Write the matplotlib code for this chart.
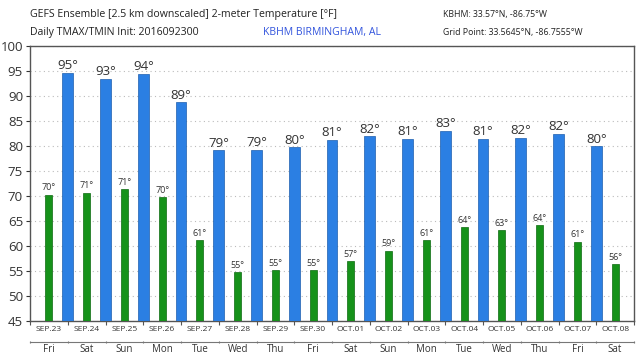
import numpy as np
import matplotlib.pyplot as plt

dates = ["SEP.23", "SEP.24", "SEP.25", "SEP.26", "SEP.27", "SEP.28", "SEP.29", "SEP.30",
         "OCT.01", "OCT.02", "OCT.03", "OCT.04", "OCT.05", "OCT.06", "OCT.07", "OCT.08"]
weekdays = ["Fri", "Sat", "Sun", "Mon", "Tue", "Wed", "Thu", "Fri",
            "Sat", "Sun", "Mon", "Tue", "Wed", "Thu", "Fri", "Sat"]
tmin = [70.2, 70.6, 71.3, 69.7, 61.1, 54.7, 55.1, 55.1, 56.9, 59.0, 61.1, 63.7, 63.1, 64.1, 60.8, 56.3]
tmin_labels = [70, 71, 71, 70, 61, 55, 55, 55, 57, 59, 61, 64, 63, 64, 61, 56]
tmax = [94.6, 93.4, 94.4, 88.7, 79.1, 79.2, 79.7, 81.2, 81.9, 81.4, 83.0, 81.4, 81.6, 82.4, 79.9]
tmax_labels = [95, 93, 94, 89, 79, 79, 80, 81, 82, 81, 83, 81, 82, 82, 80]

plt.rcParams["font.family"] = ["Open Sans", "DejaVu Sans"]

blue = "#2b7fe3"
green = "#16921a"
frame = "#555555"

fig = plt.figure(figsize=(6.4, 3.6), dpi=100)
ax = fig.add_axes([30 / 640, 1 - 320.7 / 360, 604 / 640, 274.7 / 360])

n = len(dates)
x_min = np.arange(n) + 0.5
x_max = np.arange(1, len(tmax) + 1)

ax.bar(x_min, np.array(tmin) - 45, bottom=45, width=0.19, color=green,
       edgecolor="#0d6a10", linewidth=0.5, zorder=3)
ax.bar(x_max, np.array(tmax) - 45, bottom=45, width=0.29, color=blue,
       edgecolor="#1d5fae", linewidth=0.5, zorder=3)

for x, v, lab in zip(x_min, tmin, tmin_labels):
    ax.text(x, v + 0.5, f"{lab}°", ha="center", va="bottom", fontsize=6.5, color="#333333")
for x, v, lab in zip(x_max, tmax, tmax_labels):
    ax.text(x, v + 0.1, f"{lab}°", ha="center", va="bottom", fontsize=9.5, color="#333333")

ax.set_xlim(0, n)
ax.set_ylim(45, 100)
ax.set_yticks(np.arange(45, 101, 5))
ax.tick_params(axis="y", labelsize=9.5, colors="#333333", length=3, pad=2)
ax.yaxis.grid(True, linestyle=(0, (1, 3)), color="#bbbbbb", linewidth=0.8)
ax.set_axisbelow(True)

ax.set_xticks(np.arange(n + 1))
ax.set_xticklabels([])
ax.set_xticks(x_min, minor=True)
ax.set_xticklabels(dates, minor=True)
ax.tick_params(axis="x", which="major", length=3, color=frame)
ax.tick_params(axis="x", which="minor", length=0, labelsize=6, colors="#333333", pad=4)

for s in ax.spines.values():
    s.set_color(frame)
    s.set_linewidth(1.0)

ax2 = ax.twiny()
ax2.set_xlim(0, n)
ax2.xaxis.set_ticks_position("bottom")
ax2.xaxis.set_label_position("bottom")
ax2.spines["bottom"].set_position(("outward", 15))
ax2.spines["bottom"].set_color("#777777")
for k in ["top", "left", "right"]:
    ax2.spines[k].set_visible(False)
ax2.set_xticks(np.arange(n + 1))
ax2.set_xticklabels([])
ax2.set_xticks(x_min, minor=True)
ax2.set_xticklabels(weekdays, minor=True)
ax2.tick_params(axis="x", which="major", length=2, color="#777777", direction="inout")
ax2.tick_params(axis="x", which="minor", length=0, labelsize=7, colors="#333333", pad=1.5)

fig.text(30 / 640, 1 - 15 / 360, "GEFS Ensemble [2.5 km downscaled] 2-meter Temperature [°F]",
         fontsize=7.6, color="#222222", va="center")
fig.text(30 / 640, 1 - 33 / 360, "Daily TMAX/TMIN Init: 2016092300",
         fontsize=7.6, color="#222222", va="center")
fig.text(263 / 640, 1 - 33 / 360, "KBHM BIRMINGHAM, AL",
         fontsize=7.6, color="#3355dd", va="center")
fig.text(443 / 640, 1 - 15 / 360, "KBHM: 33.57°N, -86.75°W",
         fontsize=6.3, color="#222222", va="center")
fig.text(443 / 640, 1 - 33 / 360, "Grid Point: 33.5645°N, -86.7555°W",
         fontsize=6.3, color="#222222", va="center")

fig.savefig("out.png", dpi=100)
